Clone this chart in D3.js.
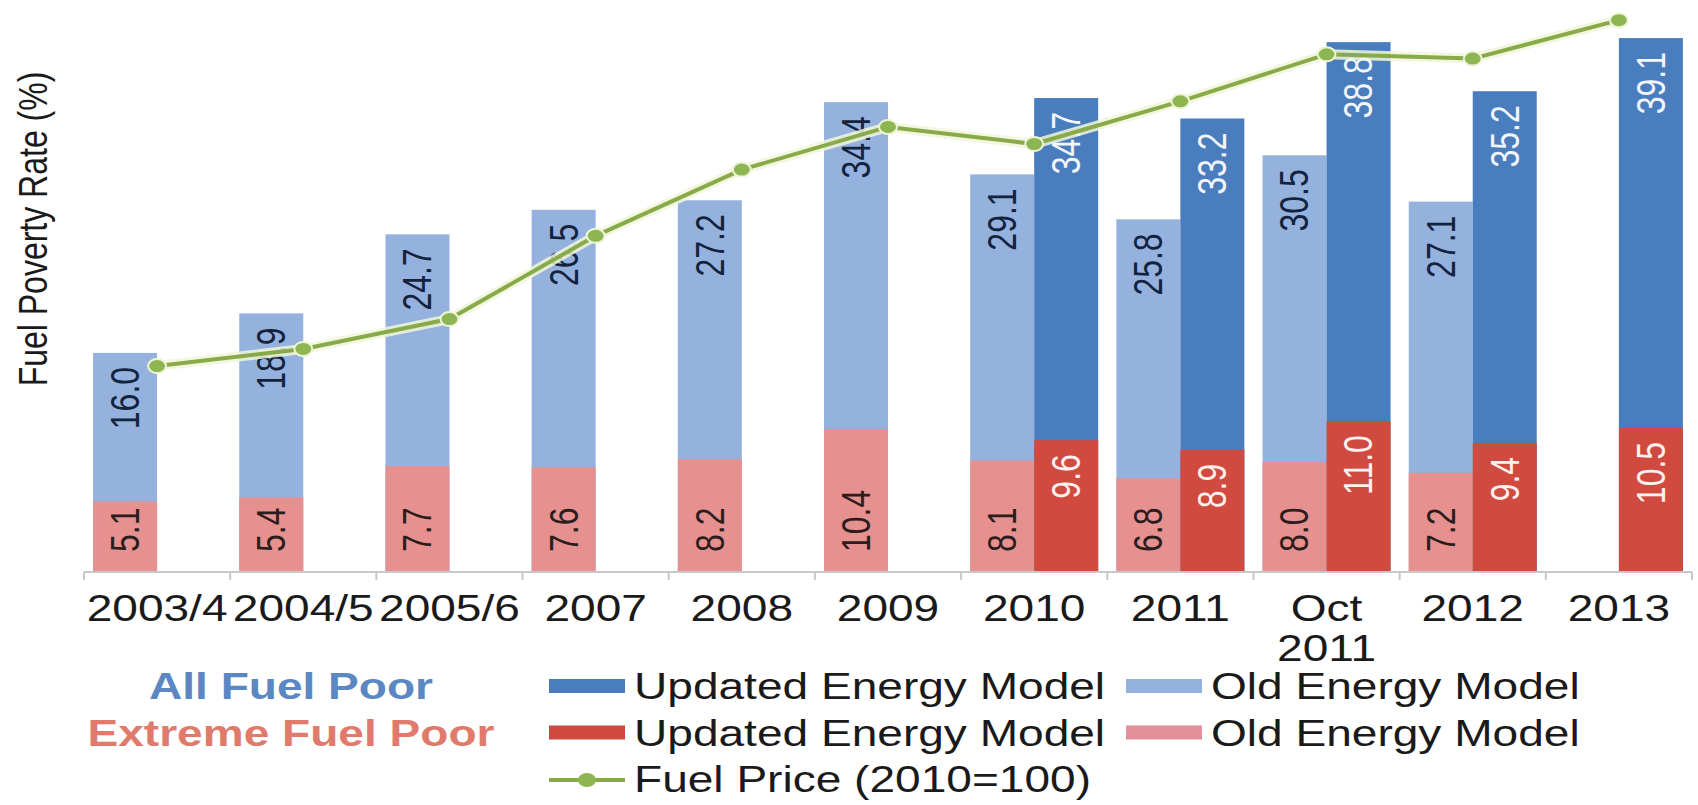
<!DOCTYPE html>
<html>
<head>
<meta charset="utf-8">
<script src="https://cdn.jsdelivr.net/npm/d3@7"></script>
<style>
  html, body { margin: 0; padding: 0; background: #ffffff; }
  svg { display: block; font-family: "Liberation Sans", Arial, Helvetica, sans-serif; }
</style>
</head>
<body>
<svg id="chart" width="1698" height="805"></svg>
<script>
// ---- data ----
const categories = ["2003/4", "2004/5", "2005/6", "2007", "2008", "2009", "2010", "2011", "Oct 2011", "2012", "2013"];
const oldAll         = [16.0, 18.9, 24.7, 26.5, 27.2, 34.4, 29.1, 25.8, 30.5, 27.1, null];
const oldExtreme     = [5.1, 5.4, 7.7, 7.6, 8.2, 10.4, 8.1, 6.8, 8.0, 7.2, null];
const updatedAll     = [null, null, null, null, null, null, 34.7, 33.2, 38.8, 35.2, 39.1];
const updatedExtreme = [null, null, null, null, null, null, 9.6, 8.9, 11.0, 9.4, 10.5];
const fuelPrice      = [48, 52, 59, 78.5, 94, 104, 100, 110, 121, 120, 129];

const groupLabels = ["All Fuel Poor", "Extreme Fuel Poor"];
const modelLabels = ["Updated Energy Model", "Old Energy Model"];
const lineLabel = "Fuel Price (2010=100)";
const yTitle = "Fuel Poverty Rate (%)";

// ---- styling ----
const colors = {
  updatedAll: "#4a7dbd",
  oldAll: "#94b2dd",
  updatedExtreme: "#d04a3f",
  oldExtreme: "#e6918f",
  line: "#88aa48",
  marker: "#8db552",
  groupAll: "#5b87c2",
  groupExtreme: "#e07b6c",
  text: "#1a1a1a"
};
const sx = 1.28; // horizontal stretch applied to all lettering and markers

const svg = d3.select("#chart");

// ---- scales ----
const x = d3.scaleBand().domain(categories).range([84, 1692]).padding(0);
const xm = d3.scaleBand().domain(["old", "updated"]).range([0, x.bandwidth()])
  .paddingInner(0).paddingOuter(0.142);
const y = d3.scaleLinear().domain([0, 40]).range([571, 25.8]);
const y2 = d3.scaleLinear().domain([0, 100]).range([571, 144]);

const rows = categories.map((c, i) => ({
  c,
  oldAll: oldAll[i],
  oldExtreme: oldExtreme[i],
  updatedAll: updatedAll[i],
  updatedExtreme: updatedExtreme[i],
  price: fuelPrice[i]
}));

const series = [
  { key: "oldAll", model: "old", fill: colors.oldAll, ink: "#13223d", place: "end" },
  { key: "updatedAll", model: "updated", fill: colors.updatedAll, ink: "#f2f5fb", place: "end" },
  { key: "oldExtreme", model: "old", fill: colors.oldExtreme, ink: "#2b1d1d", place: "base" },
  { key: "updatedExtreme", model: "updated", fill: colors.updatedExtreme, ink: "#fdf0ee", place: "end" }
];

// ---- bars ----
const barLayer = svg.append("g").attr("class", "bars");
series.forEach(s => {
  barLayer.append("g").attr("class", "bar-" + s.key)
    .selectAll("rect")
    .data(rows.filter(r => r[s.key] != null))
    .join("rect")
    .attr("x", d => x(d.c) + xm(s.model))
    .attr("y", d => y(d[s.key]))
    .attr("width", xm.bandwidth())
    .attr("height", d => y(0) - y(d[s.key]))
    .attr("fill", s.fill);
});

// ---- value labels (rotated) ----
const labelLayer = svg.append("g").attr("class", "value-labels")
  .attr("font-size", 32);
series.forEach(s => {
  labelLayer.append("g")
    .selectAll("text")
    .data(rows.filter(r => r[s.key] != null))
    .join("text")
    .attr("transform", d => {
      const cx = x(d.c) + xm(s.model) + xm.bandwidth() / 2;
      const ty = s.place === "end" ? y(d[s.key]) + 14 : y(0) - 19;
      return `translate(${cx},${ty}) scale(${sx},1) rotate(-90)`;
    })
    .attr("text-anchor", s.place === "end" ? "end" : "start")
    .attr("dominant-baseline", "central")
    .attr("fill", s.ink)
    .text(d => d[s.key].toFixed(1));
});

// ---- category axis ----
const axisY = 572;
const axisG = svg.append("g").attr("class", "x-axis");
axisG.append("line")
  .attr("x1", x.range()[0]).attr("x2", x.range()[1])
  .attr("y1", axisY).attr("y2", axisY)
  .attr("stroke", "#c8c8c8").attr("stroke-width", 2);
const boundaries = categories.map(c => x(c)).concat([x.range()[1]]);
axisG.selectAll("line.tick")
  .data(boundaries)
  .join("line")
  .attr("class", "tick")
  .attr("x1", d => d).attr("x2", d => d)
  .attr("y1", axisY).attr("y2", axisY + 8)
  .attr("stroke", "#c8c8c8").attr("stroke-width", 2);

// each word of a category name goes on its own line
const tickLines = categories.flatMap(c =>
  c.split(" ").map((word, i) => ({ c, word, i })));
axisG.selectAll("text")
  .data(tickLines)
  .join("text")
  .attr("transform", d => `translate(${x(d.c) + x.bandwidth() / 2},${621 + d.i * 40}) scale(${sx},1)`)
  .attr("text-anchor", "middle")
  .attr("font-size", 36)
  .attr("fill", colors.text)
  .text(d => d.word);

// ---- y-axis title ----
svg.append("text")
  .attr("transform", `translate(33,229) scale(${sx},1) rotate(-90)`)
  .attr("text-anchor", "middle")
  .attr("dominant-baseline", "central")
  .attr("font-size", 32)
  .attr("fill", colors.text)
  .text(yTitle);

// ---- fuel price line ----
const line = d3.line()
  .x(d => x(d.c) + x.bandwidth() / 2)
  .y(d => y2(d.price));
const lineG = svg.append("g").attr("class", "price-line");
lineG.append("path")
  .datum(rows)
  .attr("d", line)
  .attr("fill", "none")
  .attr("stroke", "#f1f6da")
  .attr("stroke-opacity", 0.85)
  .attr("stroke-width", 10)
  .attr("stroke-linejoin", "round");
lineG.append("path")
  .datum(rows)
  .attr("d", line)
  .attr("fill", "none")
  .attr("stroke", colors.line)
  .attr("stroke-width", 4)
  .attr("stroke-linejoin", "round");
lineG.selectAll("ellipse")
  .data(rows)
  .join("ellipse")
  .attr("cx", d => x(d.c) + x.bandwidth() / 2)
  .attr("cy", d => y2(d.price))
  .attr("rx", 7 * sx)
  .attr("ry", 7)
  .attr("fill", colors.marker)
  .attr("stroke", "#eef4d6")
  .attr("stroke-width", 2);

// ---- legend ----
const legend = svg.append("g").attr("class", "legend");
const rowBase = [699, 745.5, 792];

legend.selectAll("text.group")
  .data(groupLabels)
  .join("text")
  .attr("class", "group")
  .attr("transform", (d, i) => `translate(291,${rowBase[i]}) scale(${sx},1)`)
  .attr("text-anchor", "middle")
  .attr("font-size", 36)
  .attr("font-weight", "bold")
  .attr("fill", (d, i) => i === 0 ? colors.groupAll : colors.groupExtreme)
  .text(d => d);

const swatchW = 76, swatchH = 14;
const colX = [549, 1126];
const legendItems = [
  { row: 0, col: 0, label: modelLabels[0], fill: colors.updatedAll },
  { row: 0, col: 1, label: modelLabels[1], fill: colors.oldAll },
  { row: 1, col: 0, label: modelLabels[0], fill: colors.updatedExtreme },
  { row: 1, col: 1, label: modelLabels[1], fill: "#e3909a" }
];
const items = legend.selectAll("g.item")
  .data(legendItems)
  .join("g")
  .attr("class", "item");
items.append("rect")
  .attr("x", d => colX[d.col])
  .attr("y", d => rowBase[d.row] - 20)
  .attr("width", swatchW)
  .attr("height", swatchH)
  .attr("fill", d => d.fill);
items.append("text")
  .attr("transform", d => `translate(${colX[d.col] + swatchW + 9},${rowBase[d.row]}) scale(${sx},1)`)
  .attr("font-size", 36)
  .attr("fill", colors.text)
  .text(d => d.label);

// line entry
const ly = rowBase[2] - 12;
legend.append("line")
  .attr("x1", colX[0]).attr("x2", colX[0] + swatchW)
  .attr("y1", ly).attr("y2", ly)
  .attr("stroke", colors.line).attr("stroke-width", 4);
legend.append("ellipse")
  .attr("cx", colX[0] + swatchW / 2).attr("cy", ly)
  .attr("rx", 7 * sx).attr("ry", 7)
  .attr("fill", colors.marker);
legend.append("text")
  .attr("transform", `translate(${colX[0] + swatchW + 9},${rowBase[2]}) scale(${sx},1)`)
  .attr("font-size", 36)
  .attr("fill", colors.text)
  .text(lineLabel);
</script>
</body>
</html>
